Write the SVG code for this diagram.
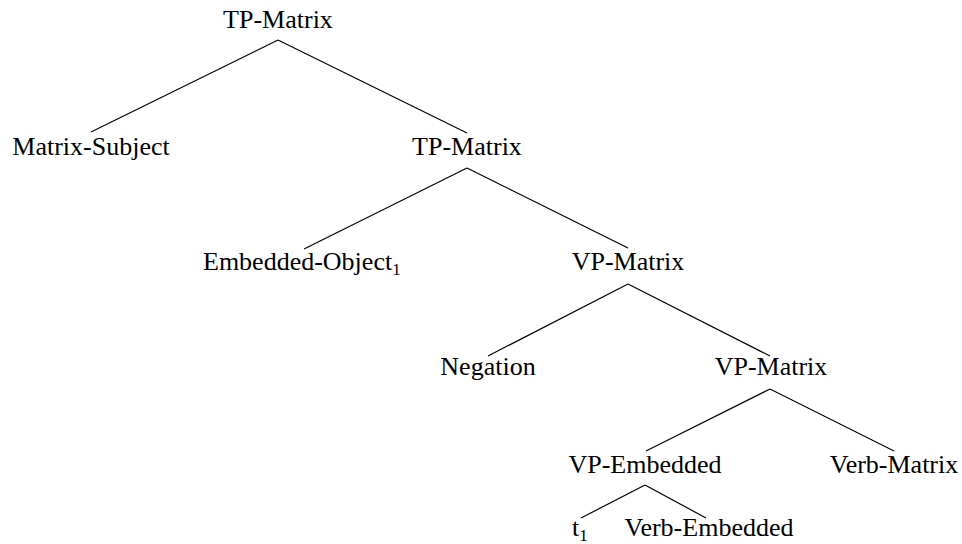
<svg xmlns="http://www.w3.org/2000/svg" width="962" height="544" viewBox="0 0 962 544">
<style>
text{font-family:"Liberation Serif","Times New Roman",serif;font-size:26px;fill:#000;}
.c{text-anchor:middle;}
.sub{font-size:17px;}
#edges line{stroke:#000;stroke-width:1.2;}
</style>
<rect width="962" height="544" fill="#fff"/>
<g id="edges">
<line x1="278" y1="40" x2="91" y2="132"/>
<line x1="278" y1="40" x2="467" y2="133"/>
<line x1="467" y1="168" x2="304" y2="249"/>
<line x1="467" y1="168" x2="628" y2="248"/>
<line x1="628" y1="284" x2="488" y2="356"/>
<line x1="628" y1="284" x2="770" y2="356"/>
<line x1="770" y1="389" x2="646" y2="451"/>
<line x1="770" y1="389" x2="894" y2="451"/>
<line x1="645" y1="485" x2="581" y2="518"/>
<line x1="645" y1="485" x2="706" y2="518"/>
</g>
<g id="tp-matrix-root"><text class="c" x="278" y="28">TP-Matrix</text></g>
<g id="matrix-subject"><text class="c" x="91" y="155">Matrix-Subject</text></g>
<g id="tp-matrix-2"><text class="c" x="467" y="155">TP-Matrix</text></g>
<g id="embedded-object"><text x="203" y="270">Embedded-Object<tspan class="sub" dy="5">1</tspan></text></g>
<g id="vp-matrix-1"><text class="c" x="628" y="270">VP-Matrix</text></g>
<g id="negation"><text class="c" x="488" y="375">Negation</text></g>
<g id="vp-matrix-2"><text class="c" x="771" y="375">VP-Matrix</text></g>
<g id="vp-embedded"><text class="c" x="645" y="473">VP-Embedded</text></g>
<g id="verb-matrix"><text class="c" x="894" y="473">Verb-Matrix</text></g>
<g id="t1"><text x="572" y="536">t<tspan class="sub" dy="5">1</tspan></text></g>
<g id="verb-embedded"><text class="c" x="709" y="536">Verb-Embedded</text></g>
</svg>
